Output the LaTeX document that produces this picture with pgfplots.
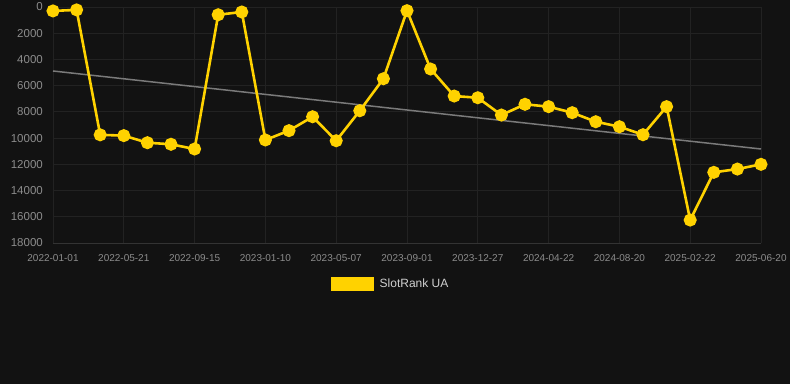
\documentclass[border=0pt]{standalone}
\usepackage{pgfplots}
\pgfplotsset{compat=1.18}
\usepackage{fontspec}
\setmainfont{Liberation Sans}
\definecolor{bg}{HTML}{121212}
\definecolor{gridc}{HTML}{222222}
\definecolor{axc}{HTML}{333333}
\definecolor{tickc}{HTML}{8C8C8C}
\definecolor{legc}{HTML}{D0D0D0}
\definecolor{yel}{HTML}{FFD200}
\definecolor{trend}{HTML}{7A7A7A}
\begin{document}
\begin{tikzpicture}
\path[use as bounding box, fill=bg] (0,0) rectangle (790pt,384pt);
\begin{axis}[
  at={(53pt,141pt)}, anchor=south west,
  scale only axis, width=708pt, height=236pt,
  xmin=0, xmax=30, ymin=0, ymax=18000,
  y dir=reverse,
  scaled y ticks=false,
  axis line style={draw=none},
  grid=major,
  major grid style={gridc, line width=0.8pt},
  major tick length=0pt,
  xtick={0,3,...,30},
  xticklabels={2022-01-01,2022-05-21,2022-09-15,2023-01-10,2023-05-07,2023-09-01,2023-12-27,2024-04-22,2024-08-20,2025-02-22,2025-06-20},
  ytick={0,2000,...,18000},
  xticklabel style={font=\fontsize{10}{12}\selectfont, text=tickc, anchor=north, inner sep=0pt, yshift=-11pt},
  yticklabel style={font=\fontsize{11.5}{13}\selectfont, text=tickc, anchor=east, inner sep=0pt, xshift=-10pt},
  clip=false,
  legend style={at={(0.477,-0.174)}, anchor=center, draw=none, fill=none, text=legc, font=\fontsize{12}{14}\selectfont, inner sep=0pt},
  legend image code/.code={\fill[yel] (0pt,-5.5pt) rectangle (40pt,5.5pt);},
  legend cell align=left,
  /pgf/number format/.cd, 1000 sep={}, fixed, assume math mode=true,
]
\draw[axc, line width=0.8pt] (axis cs:0,18000) -- (axis cs:30,18000);
\addplot[trend, line width=1.5pt, forget plot] coordinates {(0,4880) (30,10830)};
\addplot[yel, line width=2.6pt, mark=*, mark size=5.2pt, mark options={fill=yel, draw=none}] coordinates {
(0,300) (1,220) (2,9750) (3,9810) (4,10350) (5,10470) (6,10830) (7,590) (8,380)
(9,10140) (10,9430) (11,8370) (12,10200) (13,7910) (14,5470) (15,280) (16,4730)
(17,6790) (18,6920) (19,8240) (20,7420) (21,7600) (22,8060) (23,8750) (24,9130)
(25,9740) (26,7600) (27,16250) (28,12610) (29,12360) (30,12000)
};
\addlegendentry{\hspace{4pt}SlotRank UA}
\end{axis}
\end{tikzpicture}
\end{document}
